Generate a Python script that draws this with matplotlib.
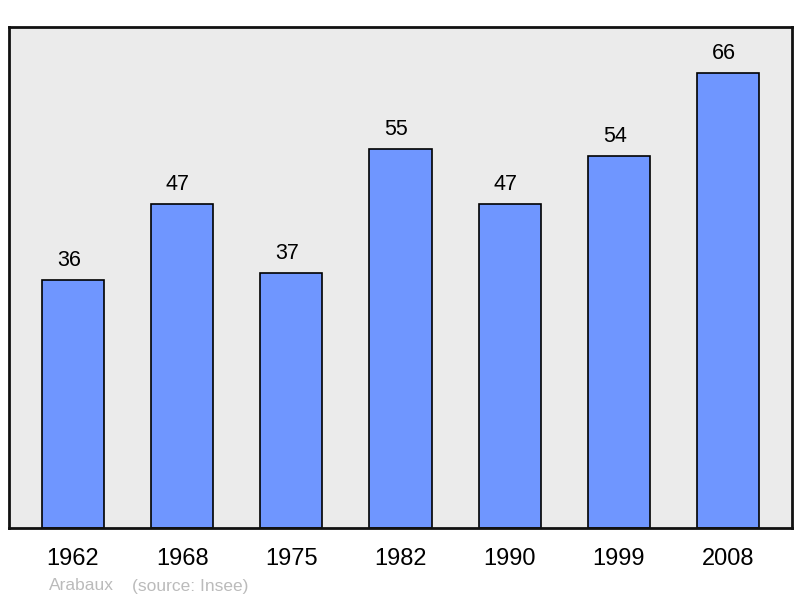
import matplotlib
matplotlib.use("Agg")
import matplotlib.pyplot as plt

years = ["1962", "1968", "1975", "1982", "1990", "1999", "2008"]
values = [36, 47, 37, 55, 47, 54, 66]

plt.rcParams['font.family'] = ['Liberation Sans', 'DejaVu Sans']

fig = plt.figure(figsize=(8, 5.98), dpi=100)
ax = fig.add_axes([9/800, 70/598, 783/800, 501/598])
ax.set_facecolor('#ebebeb')
x = list(range(len(years)))
ax.bar(x, values, width=0.57, color='#6f96ff', edgecolor='black', linewidth=1.2, zorder=2)
for xi, v in zip(x, values):
    ax.annotate(str(v), xy=(xi, v), xytext=(-3, 10), textcoords='offset points',
                ha='center', va='baseline', fontsize=15.5, color='black')
ax.set_xlim(-0.585, 6.585)
ax.set_ylim(0, 72.7)
ax.set_xticks(x)
ax.set_xticklabels(years, fontsize=17)
ax.tick_params(axis='x', length=0, pad=14.5)
ax.set_yticks([])
for s in ax.spines.values():
    s.set_linewidth(2)
    s.set_color('#111111')
fig.text(49/800, 1 - 586/598, "Arabaux", fontsize=12.5, color='#bbbbbb', va='center', ha='left')
fig.text(132/800, 1 - 586/598, "(source: Insee)", fontsize=12.5, color='#bbbbbb', va='center', ha='left')
fig.savefig("out.png", dpi=100)
